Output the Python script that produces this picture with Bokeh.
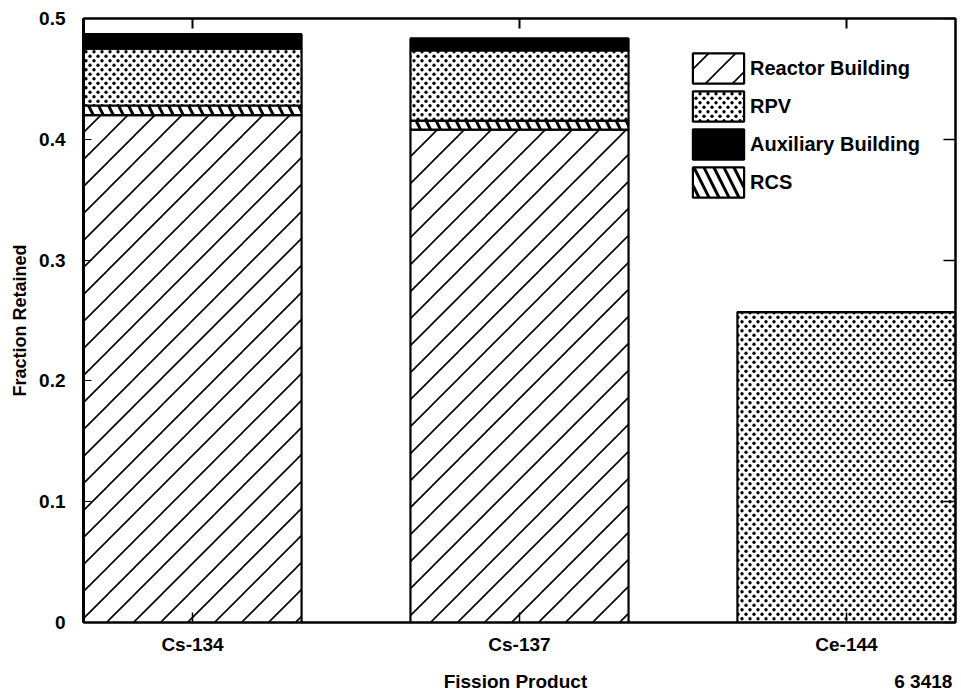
import base64
import numpy as np
from bokeh.plotting import figure
from bokeh.models import (LinearAxis, FixedTicker, Range1d, Legend, LegendItem,
                          ImageURLTexture)
from bokeh.core.properties import value
from bokeh.embed import file_html
from bokeh.resources import INLINE

products = ["Cs-134", "Cs-137", "Ce-144"]
reactor_building = [0.420, 0.408, 0.0]
rcs = [0.008, 0.0075, 0.0]
rpv = [0.047, 0.058, 0.257]
aux_building = [0.012, 0.010, 0.0]
y_ticks = [0.0, 0.1, 0.2, 0.3, 0.4, 0.5]
x_title = "Fission Product"
y_title = "Fraction Retained"
figure_number = "6 3418"

FONT = "Liberation Sans"


def svg_uri(svg):
    return "data:image/svg+xml;base64," + base64.b64encode(svg.encode()).decode()


diag_svg = ('<svg xmlns="http://www.w3.org/2000/svg" width="27" height="27">'
            '<path d="M0 27 L27 0 M-3 3 L3 -3 M24 30 L30 24" stroke="black" '
            'stroke-width="1.6" fill="none"/></svg>')
dot_svg = ('<svg xmlns="http://www.w3.org/2000/svg" width="8" height="9">'
           '<circle cx="2" cy="2.25" r="1.65" fill="black"/>'
           '<circle cx="6" cy="6.75" r="1.65" fill="black"/></svg>')
diag_tex = ImageURLTexture(url=svg_uri(diag_svg), repetition="repeat")
dot_tex = ImageURLTexture(url=svg_uri(dot_svg), repetition="repeat")

x = list(range(len(products)))
p = figure(width=961, height=698, output_backend="svg", toolbar_location=None,
           x_range=Range1d(-0.3335, 2.3335), y_range=Range1d(0, 0.5),
           min_border_left=83, min_border_right=6, min_border_top=18, min_border_bottom=76)
p.xgrid.visible = False
p.ygrid.visible = False
p.outline_line_color = "black"
p.outline_line_width = 2
p.background_fill_color = "white"

layers = [
    ("Reactor Building", reactor_building,
     dict(fill_color="white", hatch_pattern=value("diag"), hatch_extra={"diag": diag_tex})),
    ("RCS", rcs, dict(fill_color="white", hatch_pattern="\\", hatch_scale=20,
                      hatch_weight=3, hatch_color="black")),
    ("RPV", rpv, dict(fill_color="white", hatch_pattern=value("dots"), hatch_extra={"dots": dot_tex})),
    ("Auxiliary Building", aux_building, dict(fill_color="black")),
]
bottom = np.zeros(len(x))
renderers = {}
for name, vals, style in layers:
    vals = np.array(vals)
    top = bottom + vals
    r = p.vbar(x=x, bottom=bottom.tolist(), top=top.tolist(), width=0.667,
               line_color="black", line_width=2.2, **style)
    renderers[name] = r
    bottom = top

legend = Legend(items=[LegendItem(label=n, renderers=[renderers[n]]) for n in
                       ["Reactor Building", "RPV", "Auxiliary Building", "RCS"]],
                location=(603, 421), glyph_width=64, glyph_height=38, spacing=0,
                padding=0, margin=0, label_standoff=0, border_line_alpha=0,
                background_fill_alpha=0, label_text_font=FONT, label_text_font_style="bold",
                label_text_font_size="20px", label_text_color="black")
p.add_layout(legend, "center")

blank_x = {t: "" for t in x}
blank_y = {t: "" for t in y_ticks}

# bottom axis A: frame line + inward category ticks, no labels
p.xaxis.ticker = FixedTicker(ticks=x)
p.xaxis.major_tick_in = 10
p.xaxis.major_tick_out = 0
p.xaxis.minor_tick_line_color = None
p.xaxis.axis_line_width = 2
p.xaxis.axis_line_color = "black"
p.xaxis.major_tick_line_color = "black"
p.xaxis.major_tick_line_width = 1.5
p.xaxis.major_label_standoff = 0
p.xaxis.major_label_overrides = blank_x
p.xaxis.major_label_text_font_size = "1px"

# bottom axis B: category names, x title and figure number as labels
label_pos = x + [0.9876, 2.235]
label_txt = products + ["\n\n" + x_title, "\n\n" + figure_number]
xb = LinearAxis(ticker=FixedTicker(ticks=label_pos),
                major_label_overrides=dict(zip(label_pos, label_txt)),
                axis_line_color=None, major_tick_line_color=None,
                minor_tick_line_color=None, major_tick_in=0, major_tick_out=0,
                major_label_standoff=11, major_label_text_font=FONT,
                major_label_text_font_style="bold", major_label_text_font_size="19px",
                major_label_text_line_height=0.9, major_label_text_color="black")
p.add_layout(xb, "below")

# left axis
p.yaxis.ticker = FixedTicker(ticks=y_ticks)
p.yaxis.major_label_overrides = {0: "0"}
p.yaxis.major_tick_in = 8
p.yaxis.major_tick_out = 0
p.yaxis.minor_tick_line_color = None
p.yaxis.axis_line_width = 3
p.yaxis.axis_line_color = "black"
p.yaxis.major_tick_line_color = "black"
p.yaxis.major_label_standoff = 18
p.yaxis.major_label_text_font = FONT
p.yaxis.major_label_text_font_style = "bold"
p.yaxis.major_label_text_font_size = "19px"
p.yaxis.major_label_text_color = "black"
p.yaxis.axis_label = y_title
p.yaxis.axis_label_text_font = FONT
p.yaxis.axis_label_text_font_style = "bold"
p.yaxis.axis_label_text_font_size = "18px"
p.yaxis.axis_label_text_color = "black"
p.yaxis.axis_label_standoff = 6

# right axis (ticks only)
ra = LinearAxis(ticker=FixedTicker(ticks=y_ticks), major_tick_in=12, major_tick_out=0,
                minor_tick_line_color=None, major_label_overrides=blank_y,
                major_label_text_font_size="1px", major_label_standoff=0,
                axis_line_width=2, major_tick_line_width=1.5)
p.add_layout(ra, "right")
# top axis (ticks only)
ta = LinearAxis(ticker=FixedTicker(ticks=x), major_tick_in=10, major_tick_out=0,
                minor_tick_line_color=None, major_label_overrides=blank_x,
                major_label_text_font_size="1px", major_label_standoff=0,
                axis_line_width=2, major_tick_line_width=2)
p.add_layout(ta, "above")

open("out.html", "w").write(file_html(p, INLINE))
